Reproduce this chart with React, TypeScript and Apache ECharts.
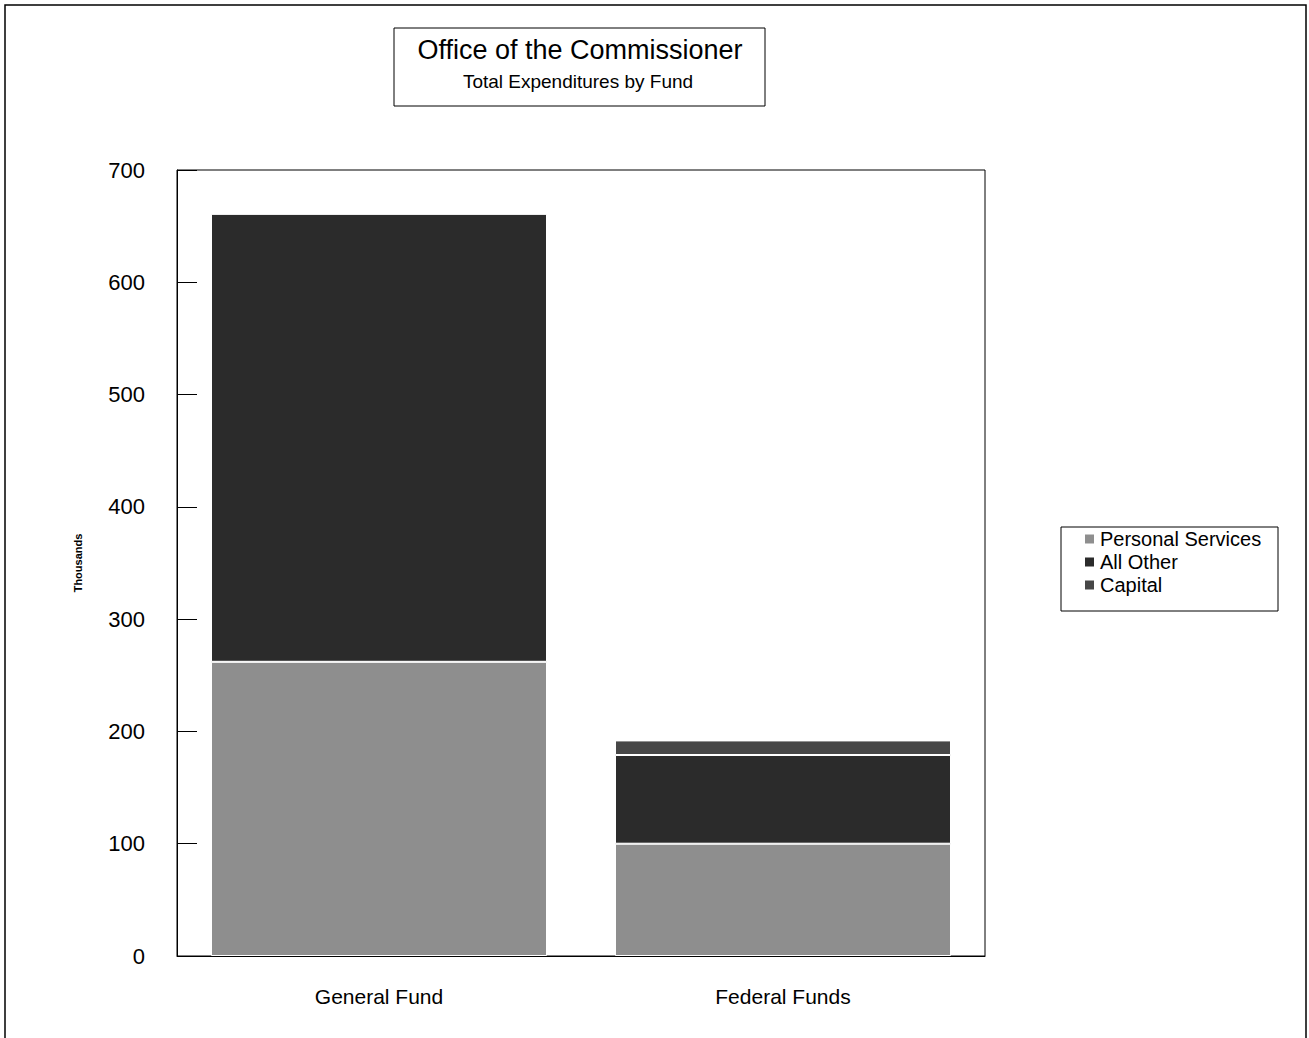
import React, { useEffect, useRef } from "react";
import * as echarts from "echarts";

const categories = ["General Fund", "Federal Funds"];
const seriesNames = ["Personal Services", "All Other", "Capital"];
const personalServices = [262, 100];
const allOther = [399, 79];
const capital = [0, 13];
const yTicks = [0, 100, 200, 300, 400, 500, 600, 700];

const colors = ["#8e8e8e", "#2b2b2b", "#474747"];

export default function App() {
  const ref = useRef<HTMLDivElement>(null);
  useEffect(() => {
    if (!ref.current) return;
    const chart = echarts.init(ref.current, null, { renderer: "svg" });
    const font = "Liberation Sans, Arial, sans-serif";
    const values = [personalServices, allOther, capital];
    chart.setOption({
      animation: false,
      backgroundColor: "#ffffff",
      textStyle: { fontFamily: font, color: "#000" },
      grid: {
        left: 177,
        top: 170,
        right: 324,
        bottom: 82,
        show: true,
        borderColor: "#000",
        borderWidth: 1,
      },
      xAxis: {
        type: "category",
        data: categories,
        axisLine: { lineStyle: { color: "#000", width: 1 } },
        axisTick: { show: false },
        axisLabel: { color: "#000", fontSize: 21, margin: 30, fontFamily: font },
      },
      yAxis: {
        type: "value",
        min: yTicks[0],
        max: yTicks[yTicks.length - 1],
        interval: 100,
        name: "Thousands",
        nameLocation: "middle",
        nameGap: 94,
        nameRotate: 90,
        nameTextStyle: { fontSize: 11, color: "#000", fontFamily: font, fontWeight: "bold" },
        axisLine: { show: true, lineStyle: { color: "#000", width: 1 } },
        axisTick: { show: true, inside: true, length: 20, lineStyle: { color: "#000" } },
        axisLabel: { color: "#000", fontSize: 22, margin: 32, fontFamily: font },
        splitLine: { show: false },
      },
      legend: {
        data: seriesNames,
        orient: "vertical",
        left: 1078,
        top: 524,
        itemWidth: 11,
        itemHeight: 11,
        itemGap: 3,
        icon: "rect",
        textStyle: { fontSize: 20, color: "#000", fontFamily: font },
      },
      graphic: [
        {
          type: "rect",
          shape: { x: 5, y: 5, width: 1301, height: 1060 },
          style: { fill: "none", stroke: "#000", lineWidth: 1.5 },
          silent: true,
        },
        {
          type: "rect",
          shape: { x: 394, y: 28, width: 371, height: 78 },
          style: { fill: "#fff", stroke: "#000", lineWidth: 1 },
          silent: true,
        },
        {
          type: "text",
          x: 580,
          y: 36,
          style: {
            text: "Office of the Commissioner",
            fontSize: 27,
            fontFamily: font,
            fill: "#000",
            textAlign: "center",
          },
        },
        {
          type: "text",
          x: 578,
          y: 72,
          style: {
            text: "Total Expenditures by Fund",
            fontSize: 19,
            fontFamily: font,
            fill: "#000",
            textAlign: "center",
          },
        },
        {
          type: "rect",
          shape: { x: 1061, y: 527, width: 217, height: 84 },
          style: { fill: "none", stroke: "#000", lineWidth: 1 },
          silent: true,
        },
      ],
      series: seriesNames.map((name, i) => ({
        name,
        type: "bar",
        stack: "total",
        data: values[i],
        barWidth: 336,
        itemStyle: { color: colors[i], borderColor: "#ffffff", borderWidth: 1 },
      })),
    });
    return () => chart.dispose();
  }, []);
  return (
    <div
      ref={ref}
      style={{ position: "absolute", left: 0, top: 0, width: 1309, height: 1038 }}
    />
  );
}
